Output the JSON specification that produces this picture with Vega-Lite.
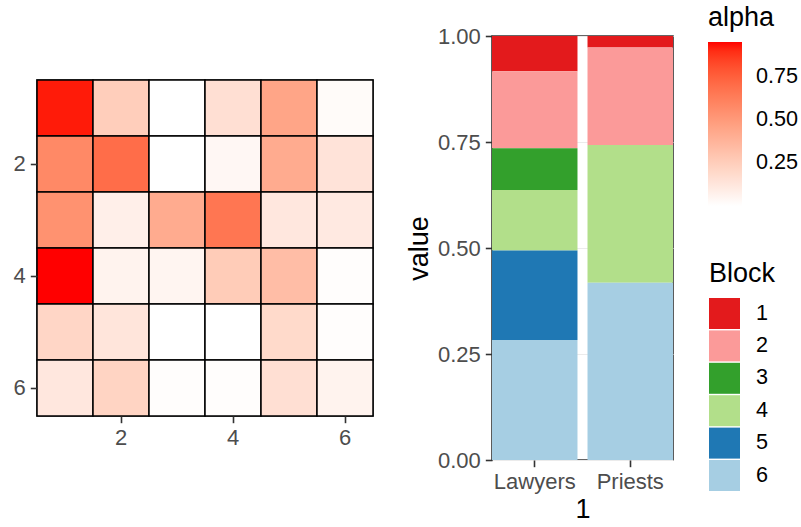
{
  "$schema": "https://vega.github.io/schema/vega-lite/v6.json",
  "background": "white",
  "padding": {"left": 12, "top": 4, "right": 5, "bottom": 5},
  "config": {
    "font": "Liberation Sans",
    "view": {"stroke": "#333333", "strokeWidth": 1.6},
    "axis": {
      "labelFont": "Liberation Sans",
      "labelFontSize": 22,
      "labelColor": "#4D4D4D",
      "tickColor": "#333333",
      "tickSize": 6.7,
      "tickWidth": 1.6,
      "domain": false,
      "grid": false,
      "labelPadding": 5,
      "titleFont": "Liberation Sans",
      "titleFontSize": 27,
      "titleFontWeight": "normal",
      "titleColor": "black"
    },
    "legend": {
      "titleFont": "Liberation Sans",
      "titleFontSize": 27,
      "titleFontWeight": "normal",
      "titleColor": "black",
      "labelFont": "Liberation Sans",
      "labelFontSize": 21.6,
      "labelColor": "black",
      "titlePadding": 10,
      "labelOverlap": false
    }
  },
  "bounds": "flush",
  "center": true,
  "spacing": 119,
  "resolve": {"scale": {"color": "independent"}},
  "hconcat": [
    {
      "width": 336,
      "height": 336,
      "data": {"values": [
        {"row": 1, "col": 1, "alpha": 0.93}, {"row": 1, "col": 2, "alpha": 0.25}, {"row": 1, "col": 3, "alpha": 0.0}, {"row": 1, "col": 4, "alpha": 0.16}, {"row": 1, "col": 5, "alpha": 0.45}, {"row": 1, "col": 6, "alpha": 0.02},
        {"row": 2, "col": 1, "alpha": 0.58}, {"row": 2, "col": 2, "alpha": 0.70}, {"row": 2, "col": 3, "alpha": 0.0}, {"row": 2, "col": 4, "alpha": 0.04}, {"row": 2, "col": 5, "alpha": 0.42}, {"row": 2, "col": 6, "alpha": 0.14},
        {"row": 3, "col": 1, "alpha": 0.54}, {"row": 3, "col": 2, "alpha": 0.08}, {"row": 3, "col": 3, "alpha": 0.42}, {"row": 3, "col": 4, "alpha": 0.66}, {"row": 3, "col": 5, "alpha": 0.12}, {"row": 3, "col": 6, "alpha": 0.11},
        {"row": 4, "col": 1, "alpha": 0.953}, {"row": 4, "col": 2, "alpha": 0.06}, {"row": 4, "col": 3, "alpha": 0.05}, {"row": 4, "col": 4, "alpha": 0.26}, {"row": 4, "col": 5, "alpha": 0.33}, {"row": 4, "col": 6, "alpha": 0.01},
        {"row": 5, "col": 1, "alpha": 0.21}, {"row": 5, "col": 2, "alpha": 0.13}, {"row": 5, "col": 3, "alpha": 0.0}, {"row": 5, "col": 4, "alpha": 0.0}, {"row": 5, "col": 5, "alpha": 0.19}, {"row": 5, "col": 6, "alpha": 0.01},
        {"row": 6, "col": 1, "alpha": 0.12}, {"row": 6, "col": 2, "alpha": 0.22}, {"row": 6, "col": 3, "alpha": 0.01}, {"row": 6, "col": 4, "alpha": 0.01}, {"row": 6, "col": 5, "alpha": 0.16}, {"row": 6, "col": 6, "alpha": 0.06}
      ]},
      "mark": {"type": "rect", "stroke": "black", "strokeWidth": 1.5},
      "encoding": {
        "x": {"field": "col", "type": "ordinal", "scale": {"paddingInner": 0, "paddingOuter": 0}, "axis": {"values": [2, 4, 6], "title": null, "labelAngle": 0}},
        "y": {"field": "row", "type": "ordinal", "scale": {"paddingInner": 0, "paddingOuter": 0}, "axis": {"values": [2, 4, 6], "title": null}},
        "color": {
          "field": "alpha", "type": "quantitative",
          "scale": {"domain": [0, 0.953], "range": ["#FFFFFF", "#FF0000"], "interpolate": "lab"},
          "legend": {"title": "alpha", "orient": "none", "legendX": 671, "legendY": -75, "values": [0.25, 0.5, 0.75], "format": ".2f", "gradientLength": 164, "gradientThickness": 34, "labelOffset": 14, "gradientStrokeWidth": 0}
        }
      }
    },
    {
      "width": 181,
      "height": 424,
      "data": {"values": [
        {"group": "Lawyers", "Block": "1", "value": 0.083},
        {"group": "Lawyers", "Block": "2", "value": 0.182},
        {"group": "Lawyers", "Block": "3", "value": 0.098},
        {"group": "Lawyers", "Block": "4", "value": 0.143},
        {"group": "Lawyers", "Block": "5", "value": 0.211},
        {"group": "Lawyers", "Block": "6", "value": 0.283},
        {"group": "Priests", "Block": "1", "value": 0.027},
        {"group": "Priests", "Block": "2", "value": 0.230},
        {"group": "Priests", "Block": "3", "value": 0.0},
        {"group": "Priests", "Block": "4", "value": 0.325},
        {"group": "Priests", "Block": "5", "value": 0.0},
        {"group": "Priests", "Block": "6", "value": 0.418}
      ]},
      "mark": {"type": "bar"},
      "encoding": {
        "x": {"field": "group", "type": "nominal", "scale": {"paddingInner": 0.105, "paddingOuter": 0}, "axis": {"title": "1", "labelAngle": 0}},
        "y": {"field": "value", "type": "quantitative", "stack": "zero", "scale": {"domain": [0, 1], "nice": false}, "axis": {"values": [0, 0.25, 0.5, 0.75, 1], "format": ".2f", "grid": true, "gridColor": "#EBEBEB", "gridWidth": 1, "title": "value"}},
        "color": {
          "field": "Block", "type": "nominal",
          "scale": {"domain": ["1", "2", "3", "4", "5", "6"], "range": ["#E31A1C", "#FB9A99", "#33A02C", "#B2DF8A", "#1F78B4", "#A6CEE3"]},
          "legend": {"title": "Block", "orient": "none", "legendX": 217, "legendY": 225, "symbolType": "square", "symbolSize": 961, "symbolStrokeWidth": 0, "symbolOpacity": 1, "rowPadding": 1.4, "labelOffset": 16}
        },
        "order": {"field": "Block", "sort": "descending"}
      }
    }
  ]
}
